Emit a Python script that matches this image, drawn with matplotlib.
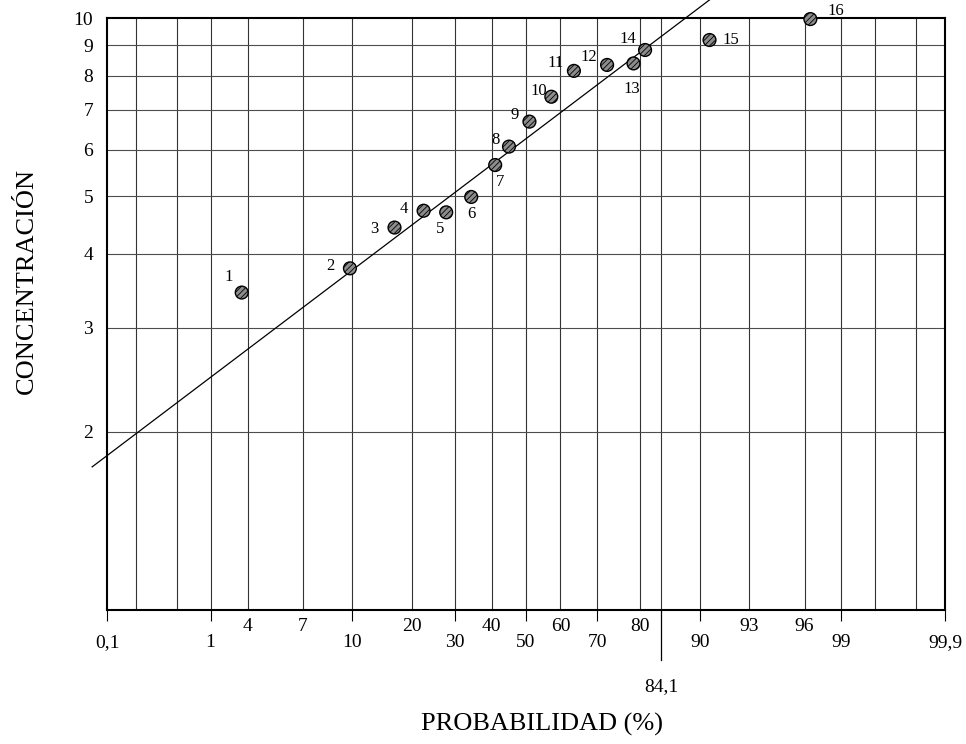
import numpy as np
import matplotlib
matplotlib.use('Agg')
import matplotlib.pyplot as plt
from statistics import NormalDist

# probability (%), concentration
point_ids = list(range(1, 17))
prob = [1.8, 9.7, 16.6, 22.5, 27.8, 34.3, 41.0, 45.0,
        51.0, 57.4, 63.8, 72.5, 78.6, 81.0, 91.2, 98.2]
conc = [3.44, 3.78, 4.43, 4.73, 4.70, 4.99, 5.65, 6.07,
        6.69, 7.37, 8.15, 8.34, 8.39, 8.84, 9.19, 9.97]

# fitted lognormal line: median (50 %) and value at 84.1 %
fit_median = 6.26
fit_p841 = 9.33

# axis layout of the probability paper
grid_prob = [0.2, 0.5, 1, 2, 5, 10, 20, 30, 40, 50, 60, 70, 80, 84.1,
             90, 95, 98, 99, 99.5, 99.8]
grid_conc = [2, 3, 4, 5, 6, 7, 8, 9]
lower_ticks = [0.1, 1, 10, 30, 50, 70, 90, 99, 99.9]
lower_labels = ['0,1', '1', '10', '30', '50', '70', '90', '99', '99,9']
upper_ticks = [2, 5, 20, 40, 60, 80, 95, 98]
upper_labels = ['4', '7', '20', '40', '60', '80', '93', '96']
y_ticks = [2, 3, 4, 5, 6, 7, 8, 9, 10]
y_labels = ['2', '3', '4', '5', '6', '7', '8', '9', '10']

# label offsets in pixels (dx, dy) relative to each point
label_off = [(-13, 16), (-20, 2), (-20, -1), (-20, 2), (-6, -17), (0, -17),
             (5, -17), (-13, 7), (-15, 7), (-13, 6), (-18, 8), (-18, 8),
             (-2, -26), (-17, 11), (21, 0), (26, 8)]

_nd = NormalDist()


def _fwd(p):
    p = np.clip(np.asarray(p, dtype=float), 1e-6, 100 - 1e-6)
    return np.vectorize(lambda v: _nd.inv_cdf(v / 100.0))(p)


def _inv(z):
    return np.vectorize(lambda v: _nd.cdf(v) * 100.0)(np.asarray(z, dtype=float))


plt.rcParams['font.family'] = ['Liberation Serif', 'DejaVu Serif']
plt.rcParams['hatch.linewidth'] = 0.6

fig = plt.figure(figsize=(9.66, 7.44), dpi=100)
ax = fig.add_axes([0.1108, 0.180, 0.8675, 0.7954])

ax.set_xscale('function', functions=(_fwd, _inv))
ax.set_yscale('log')
ax.set_xlim(0.1, 99.9)
ax.set_ylim(1, 10)

for p in grid_prob:
    ax.axvline(p, color='0.2', lw=0.8, zorder=1)
for c in grid_conc:
    ax.axhline(c, color='0.3', lw=0.8, zorder=1)

# fitted line, running past the frame like on the paper
slope = np.log10(fit_p841 / fit_median)
z_line = np.linspace(-3.2, 1.36, 50)
ax.plot(_inv(z_line), fit_median * 10 ** (slope * z_line),
        color='k', lw=0.9, clip_on=False, zorder=3)

ax.scatter(prob, conc, s=85, facecolor='0.55', edgecolor='k',
           linewidths=1.0, hatch='//////', zorder=4, clip_on=False)
for i, p, c, off in zip(point_ids, prob, conc, label_off):
    ax.annotate(str(i), (p, c), xytext=off, textcoords='offset pixels',
                ha='center', va='center', fontsize=12, zorder=5)

ax.set_xticks(lower_ticks)
ax.set_xticklabels(lower_labels)
ax.set_xticks(upper_ticks, minor=True)
ax.set_xticklabels(upper_labels, minor=True)
ax.tick_params(axis='x', which='major', length=8, width=0.8, pad=9,
               labelsize=14)
ax.tick_params(axis='x', which='minor', length=0, pad=6, labelsize=14)

ax.set_yticks(y_ticks)
ax.set_yticklabels(y_labels)
ax.yaxis.set_minor_locator(matplotlib.ticker.NullLocator())
ax.yaxis.set_minor_formatter(matplotlib.ticker.NullFormatter())
ax.tick_params(axis='y', which='major', length=0, pad=10, labelsize=14)

for s in ax.spines.values():
    s.set_linewidth(1.5)

# 84,1 marker below the axis
trans = ax.get_xaxis_transform()
ax.plot([84.1, 84.1], [0, -0.084], color='k', lw=0.9, transform=trans,
        clip_on=False)
ax.text(84.1, -0.13, '84,1', transform=trans, ha='center', va='center',
        fontsize=14)

ax.set_xlabel('PROBABILIDAD (%)', fontsize=19)
ax.xaxis.set_label_coords(0.5185, -0.174)
ax.set_ylabel('CONCENTRACIÓN', fontsize=19)
ax.yaxis.set_label_coords(-0.083, 0.557)

fig.savefig('out.png', dpi=100)
